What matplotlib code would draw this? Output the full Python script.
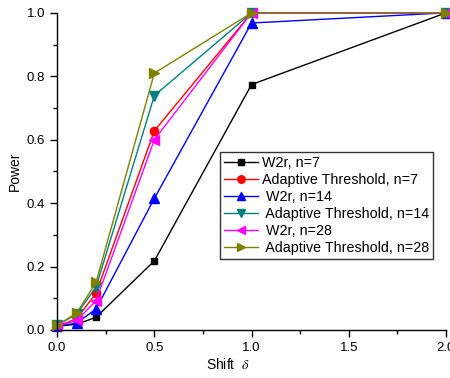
import matplotlib
matplotlib.use("Agg")
import matplotlib.pyplot as plt

plt.rcParams['font.family'] = ['Liberation Sans', 'DejaVu Sans']
plt.rcParams['mathtext.fontset'] = 'stix'

shift = [0.0, 0.1, 0.2, 0.5, 1.0, 2.0]
w2r_7 = [0.012, 0.018, 0.040, 0.218, 0.774, 1.0]
at_7 = [0.012, 0.035, 0.116, 0.628, 1.0, 1.0]
w2r_14 = [0.012, 0.022, 0.066, 0.415, 0.968, 1.0]
at_14 = [0.015, 0.050, 0.135, 0.739, 1.0, 1.0]
w2r_28 = [0.013, 0.030, 0.092, 0.600, 1.0, 1.0]
at_28 = [0.015, 0.053, 0.150, 0.810, 1.0, 1.0]

series = [
    ("W2r, n=7", w2r_7, "black", "s", 5),
    ("Adaptive Threshold, n=7", at_7, "red", "o", 6),
    (" W2r, n=14", w2r_14, "blue", "^", 6.5),
    (" Adaptive Threshold, n=14", at_14, "#008080", "v", 6.5),
    (" W2r, n=28", w2r_28, "magenta", "<", 6.5),
    (" Adaptive Threshold, n=28", at_28, "#808000", ">", 6.5),
]

fig = plt.figure(figsize=(4.5, 3.78), dpi=100)
ax = fig.add_axes([0.127, 0.127, 0.864, 0.839])

for label, vals, color, marker, ms in series:
    ax.plot(shift, vals, color=color, marker=marker, markersize=ms,
            linewidth=1.0, label=label, clip_on=False)

ax.set_xlim(0, 2.0)
ax.set_ylim(0, 1.0)
ax.set_xticks([0.0, 0.5, 1.0, 1.5, 2.0])
ax.set_xticks([0.25, 0.75, 1.25, 1.75], minor=True)
ax.set_yticks([0.0, 0.2, 0.4, 0.6, 0.8, 1.0])
ax.set_yticks([0.1, 0.3, 0.5, 0.7, 0.9], minor=True)
ax.xaxis.set_major_formatter(matplotlib.ticker.FormatStrFormatter('%.1f'))
ax.yaxis.set_major_formatter(matplotlib.ticker.FormatStrFormatter('%.1f'))
ax.tick_params(which='major', direction='out', length=5, width=1, labelsize=9.5)
ax.tick_params(which='minor', direction='out', length=3, width=1)
ax.spines['top'].set_visible(False)
ax.spines['right'].set_visible(False)
for s in ['left', 'bottom']:
    ax.spines[s].set_linewidth(1.0)

ax.set_ylabel("Power", fontsize=10)
ax.set_xlabel(r"Shift  $\delta$", fontsize=10)
ax.xaxis.set_label_coords(0.44, -0.085)
ax.yaxis.set_label_coords(-0.09, 0.5)

leg = ax.legend(loc='upper left', bbox_to_anchor=(0.419, 0.561), borderaxespad=0,
                fontsize=10.3, frameon=True, fancybox=False, edgecolor='black',
                labelspacing=0.22, handlelength=2.4, handletextpad=0.3,
                borderpad=0.25, markerscale=0.9)
leg.get_frame().set_linewidth(1.0)

fig.savefig("out.png", dpi=100)
